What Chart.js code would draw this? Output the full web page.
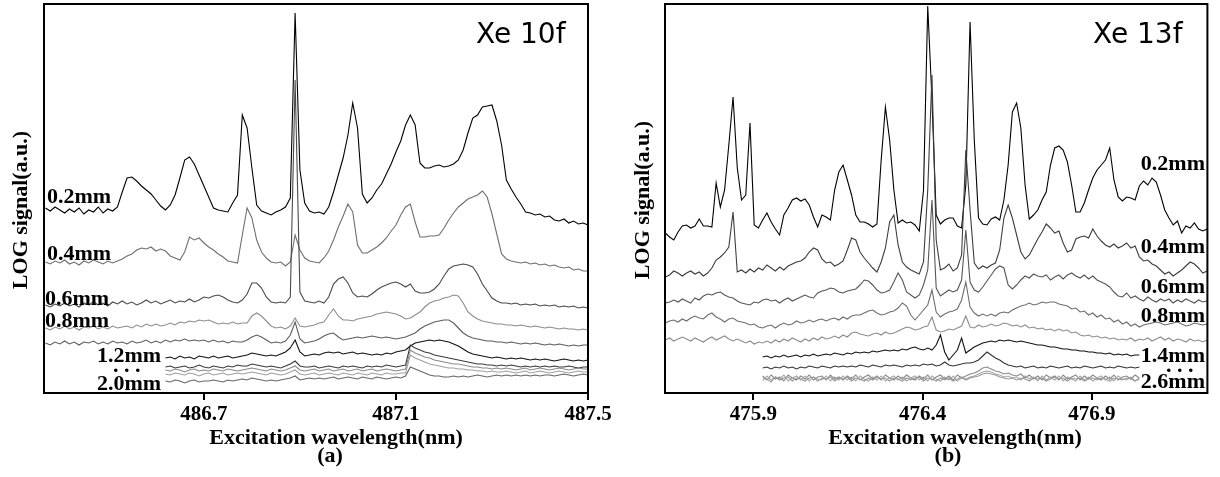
<!DOCTYPE html>
<html>
<head>
<meta charset="utf-8">
<script src="https://cdn.jsdelivr.net/npm/chart.js@4.4.1/dist/chart.umd.min.js"></script>
<style>
  body { margin: 0; background: #fff; }
  #wrapA { position: absolute; left: 0; top: 0; width: 615px; height: 477px; }
  #wrapB { position: absolute; left: 615px; top: 0; width: 605px; height: 477px; }
</style>
</head>
<body>
<div id="wrapA"><canvas id="chartA" width="615" height="477"></canvas></div>
<div id="wrapB"><canvas id="chartB" width="605" height="477"></canvas></div>
<script>
// ---- panel (a): Xe 10f, sampling grid 486.37 .. 487.50 nm ----
const waveA = Array.from({ length: 114 }, (_, i) => +(486.37 + i * 0.01).toFixed(3));
const ticksA = [486.7, 487.1, 487.5];

const a02 = [185,182,186,183,180,184,181,185,179,183,
  181,186,180,184,182,186,201,215,216,212,
  207,203,199,193,187,183,188,198,215,233,
  236,229,218,207,196,185,183,182,181,190,
  198,278,265,225,188,182,180,178,181,183,
  186,195,380,223,190,182,180,181,179,186,
  201,218,235,258,290,265,199,190,195,203,
  209,219,229,241,252,268,278,268,230,225,
  225,227,228,226,227,229,233,243,260,275,
  278,286,287,288,272,248,213,204,196,189,
  181,180,178,179,176,177,173,172,174,170,
  172,169,170,168];
const a04 = [131,129,132,130,133,129,131,128,132,130,
  133,131,129,132,130,132,134,137,139,143,
  145,144,146,142,144,142,137,135,133,141,
  156,153,155,150,146,143,139,136,132,131,
  130,158,185,175,153,141,135,131,130,131,
  127,131,158,143,135,132,131,130,135,142,
  153,166,177,189,181,148,140,140,143,146,
  150,155,162,168,178,186,189,171,156,156,
  157,157,158,165,173,180,186,190,194,196,
  198,202,196,179,159,139,134,132,131,130,
  131,129,130,128,129,127,128,126,125,126,
  123,124,122,122];
const a06 = [88,86,89,87,90,87,89,86,90,88,
  91,88,90,87,91,89,92,89,91,88,
  90,93,90,92,89,91,93,90,92,91,
  94,91,93,96,95,97,98,96,93,91,
  90,93,99,110,110,105,96,91,90,91,
  90,96,313,101,92,91,90,92,90,96,
  109,114,116,110,100,96,97,96,99,103,
  106,108,110,111,109,106,109,102,100,100,
  101,104,109,117,124,127,128,129,128,126,
  119,109,102,95,92,90,90,89,90,88,
  89,88,89,87,88,87,88,86,87,86,
  87,85,86,85];
const a08 = [65,63,66,64,67,64,66,63,66,65,
  67,64,66,64,67,65,66,67,65,68,
  66,69,67,69,67,68,70,68,71,70,
  72,71,73,72,73,71,69,70,69,71,
  69,70,70,77,80,77,72,67,65,66,
  64,67,75,67,66,67,68,70,71,78,
  84,77,73,73,72,74,75,76,77,79,
  80,81,80,79,77,74,75,78,81,86,
  90,92,93,95,96,98,97,90,81,77,
  74,72,71,70,69,69,68,68,67,68,
  67,66,67,66,65,66,65,64,65,64,
  64,63,64,63];
const a10 = [50,48,51,49,52,49,51,48,51,50,
  52,49,51,49,52,50,51,49,52,50,
  51,53,50,52,50,53,51,53,52,54,
  52,53,52,53,51,53,51,52,50,52,
  51,51,53,56,58,56,53,50,51,50,
  52,58,71,54,50,51,52,54,57,59,
  60,56,53,54,55,56,55,56,57,56,
  55,56,55,54,55,56,58,60,64,67,
  69,71,72,73,73,70,65,60,57,55,
  54,53,52,52,51,51,50,51,50,49,
  50,49,50,49,48,49,48,49,48,47,
  48,47,48,48];
// traces from 1.2 mm on start at 486.62 nm (25 empty samples)
const padA = Array(25).fill(null);
const a12 = padA.concat([35,36,34,37,35,36,34,37,36,35,
  37,35,36,37,35,36,37,38,40,39,
  38,37,38,37,39,41,45,53,41,37,
  38,39,38,40,41,40,41,39,40,41,
  39,40,39,38,39,38,40,39,41,42,
  43,47,50,51,52,53,52,53,52,51,
  49,47,44,41,39,38,37,36,35,36,
  35,34,35,34,35,34,33,34,33,34,
  33,32,33,34,33,32,33,32,33]);
const a14 = padA.concat([26,27,25,26,27,25,26,28,26,25,
  27,26,25,27,26,28,27,27,29,28,
  27,26,27,26,25,27,29,32,27,26,
  26,27,25,26,27,26,25,27,26,27,
  26,25,27,26,27,26,28,27,26,27,
  28,48,45,43,41,40,38,37,36,35,
  34,33,32,31,30,29,29,28,28,27,
  28,27,28,27,26,27,26,27,26,27,
  26,27,26,26,27,26,25,26,26]);
const a16 = padA.concat([23,22,24,23,21,23,24,22,23,22,
  24,23,22,24,23,22,23,24,25,24,
  23,22,24,23,22,23,25,27,23,22,
  23,24,22,23,24,22,23,24,22,23,
  24,22,23,24,22,23,24,23,22,23,
  24,43,40,38,36,35,33,32,31,30,
  29,29,28,27,26,26,25,25,24,25,
  24,25,24,23,24,25,23,24,25,24,
  23,24,25,24,23,24,25,24,24]);
const a18 = padA.concat([19,18,20,19,18,20,19,17,19,20,
  18,19,20,18,19,20,19,20,21,20,
  19,18,20,19,18,19,21,23,19,18,
  19,20,18,19,20,19,18,20,19,18,
  20,19,18,20,19,18,20,19,19,20,
  20,38,35,33,31,29,28,27,26,25,
  25,24,24,23,23,22,22,21,22,21,
  21,22,21,20,21,22,20,21,22,21,
  20,21,22,21,20,21,22,21,21]);
const a20 = padA.concat([12,11,13,12,10,12,13,11,12,12,
  13,12,11,13,12,13,14,13,15,14,
  13,12,13,12,13,14,15,17,13,14,
  15,14,15,14,15,16,14,15,16,15,
  14,16,15,14,16,15,14,15,16,15,
  17,26,24,22,20,18,17,17,16,16,
  17,16,17,16,17,18,17,16,17,18,
  17,18,17,18,17,18,17,18,17,18,
  18,17,18,19,18,17,18,19,18]);

// ---- panel (b): Xe 13f, sampling grid 475.64 .. 477.24 nm ----
const waveB = Array.from({ length: 129 }, (_, j) => +(475.64 + j * 0.0125).toFixed(4));
const ticksB = [475.9, 476.4, 476.9];

const b02 = [160,156,153,161,167,168,165,167,174,167,
  167,166,210,186,203,248,296,225,193,198,
  270,168,165,173,180,171,164,158,178,185,
  193,195,192,194,188,176,166,178,176,173,
  203,221,228,213,198,178,171,171,169,166,
  169,233,286,253,203,170,173,170,171,168,
  162,203,387,293,178,169,173,175,175,167,
  165,208,371,253,175,169,168,174,176,173,
  193,228,281,290,265,208,174,178,183,193,
  201,228,245,247,243,231,208,181,181,190,
  203,215,223,228,233,245,213,196,192,196,
  195,193,207,212,208,215,211,198,183,175,
  168,172,160,167,165,170,164,162,164];
const b04 = [116,118,122,120,117,120,122,119,121,117,
  120,125,133,136,140,146,181,121,123,120,
  124,121,125,123,128,125,122,126,123,127,
  129,131,132,135,141,145,143,134,130,131,
  127,129,132,143,155,153,141,135,130,125,
  121,131,145,171,178,148,131,126,123,121,
  119,131,203,318,153,123,125,129,122,125,
  138,243,183,130,124,127,125,128,130,143,
  175,188,175,158,141,134,138,146,154,161,
  169,165,160,162,150,141,143,154,156,157,
  155,164,157,152,148,146,149,145,147,150,
  145,147,136,132,133,129,127,123,119,121,
  117,120,123,127,131,129,125,120,122];
const b06 = [90,91,93,91,94,92,90,95,93,97,
  99,98,100,101,98,96,95,92,90,89,
  88,91,90,93,94,92,93,90,93,95,
  92,94,96,98,96,95,100,102,103,105,
  104,101,100,102,103,104,108,113,112,108,
  103,100,101,103,111,120,113,101,98,95,
  98,108,123,193,105,97,100,103,101,103,
  113,163,111,103,101,106,112,118,124,127,
  125,108,104,108,113,117,115,119,117,116,
  118,113,116,118,114,118,120,117,115,118,
  114,117,113,111,109,106,101,97,96,100,
  95,97,94,92,96,93,91,94,92,94,
  90,93,91,94,92,90,93,91,92];
const b08 = [70,72,73,71,74,72,75,77,75,74,
  78,80,76,74,71,74,75,72,71,70,
  68,69,66,65,67,68,65,68,70,68,
  69,72,70,71,73,71,73,74,72,74,
  75,73,76,74,77,78,78,80,82,83,
  80,78,79,81,82,85,90,87,78,73,
  78,83,88,103,81,76,79,81,82,84,
  93,111,86,80,77,79,77,79,77,80,
  81,80,83,85,87,88,90,88,89,91,
  90,91,91,89,88,87,84,85,81,82,
  78,80,76,78,74,75,71,73,69,71,
  67,69,66,68,69,70,71,70,68,69,
  70,71,69,67,68,70,69,68,69];
const b10 = [53,55,52,54,56,54,52,55,53,51,
  54,56,53,55,57,54,52,54,52,50,
  52,49,51,50,52,50,53,51,54,52,
  55,53,51,54,52,55,53,56,54,55,
  57,55,58,56,60,61,59,58,57,59,
  60,58,61,59,60,62,64,66,65,63,
  64,66,67,76,63,61,62,64,63,65,
  67,77,66,65,68,66,67,69,67,68,
  70,69,67,68,66,68,65,66,64,65,
  63,64,62,64,62,63,60,61,58,57,
  58,56,57,55,56,54,55,53,54,53,
  55,52,54,53,55,52,54,56,53,55,
  52,54,53,51,54,52,53,51,53];
// short traces run from 475.9275 to 477.04 nm (23 empty samples before, 16 after)
const headB = Array(23).fill(null), tailB = Array(16).fill(null);
const b14 = headB.concat([36,37,35,37,36,38,36,37,38,36,
  38,37,39,37,38,39,38,40,39,38,
  40,39,41,40,41,40,42,41,42,43,
  42,43,42,44,43,45,46,44,43,45,
  43,48,58,41,33,38,43,55,40,43,
  46,48,50,51,52,51,53,52,53,52,
  51,52,51,50,49,48,48,47,46,46,
  45,44,44,43,43,42,42,41,41,40,
  40,39,40,38,39,38,39,37,38,38], tailB);
const b18 = headB.concat([25,26,24,26,25,27,25,26,24,26,
  25,27,26,25,27,26,25,27,26,27,
  26,27,26,28,27,26,28,27,26,28,
  27,28,27,26,28,27,28,27,29,28,
  29,27,28,31,28,27,28,29,30,30,
  31,33,37,41,38,35,33,30,28,27,
  26,27,25,26,27,25,26,25,27,26,
  25,26,27,25,26,25,27,26,25,26,
  27,25,26,25,27,26,25,26,25,26], tailB);
const b22 = headB.concat([17,13,18,14,16,12,18,15,13,17,
  14,18,13,16,17,13,18,14,16,13,
  17,14,18,13,16,18,14,17,13,18,
  15,13,17,14,18,15,13,17,14,18,
  13,16,18,14,17,13,18,15,17,19,
  20,22,25,26,24,22,21,19,20,18,
  17,19,15,18,14,17,13,18,15,17,
  13,18,14,16,18,13,17,14,18,15,
  13,17,14,18,13,16,17,14,18,15], tailB);
const b24 = headB.concat([12,17,13,16,14,18,12,15,17,13,
  17,12,16,14,13,17,12,16,13,17,
  13,16,12,17,14,12,16,13,17,12,
  15,17,13,16,12,15,17,13,16,12,
  17,14,12,16,13,17,12,15,14,16,
  17,19,21,22,21,19,18,16,17,15,
  16,13,17,14,16,12,17,13,16,13,
  17,12,16,14,12,17,13,16,12,15,
  17,13,16,12,17,14,13,16,12,15], tailB);
const b26 = headB.concat([15,14,11,16,13,15,16,12,15,14,
  12,15,16,12,15,14,16,12,15,14,
  16,12,15,14,12,15,13,16,14,15,
  12,15,14,12,15,13,15,16,12,15,
  14,12,15,13,15,12,14,16,13,15,
  16,17,19,20,19,18,16,15,14,15,
  13,15,14,12,15,14,15,12,14,16,
  14,15,12,15,14,15,12,14,15,13,
  15,14,12,15,14,13,15,14,12,14], tailB);

const labelFont = 'bold 22px "Liberation Serif"';
const titleFont = '28px "DejaVu Sans"';

// frame + annotation text, drawn after the datasets
const framePlugin = {
  id: "frame",
  afterDraw(chart, args, opts) {
    const { ctx, chartArea: area } = chart;
    ctx.save();
    ctx.strokeStyle = "#000";
    ctx.lineWidth = 2;
    ctx.strokeRect(area.left, area.top, area.right - area.left, area.bottom - area.top);
    ctx.fillStyle = "#000";
    ctx.textBaseline = "alphabetic";
    opts.texts.forEach((t) => {
      ctx.save();
      ctx.font = t.font || labelFont;
      ctx.textAlign = t.align || "left";
      ctx.translate(t.x, t.y);
      if (t.rotate) ctx.rotate(t.rotate);
      ctx.fillText(t.text, 0, 0);
      ctx.restore();
    });
    ctx.restore();
  },
};

function makeChart(id, wave, series, range, ticks, padding, texts) {
  return new Chart(id, {
    type: "line",
    data: {
      datasets: series.map((s) => ({
        label: s.label,
        data: s.values.map((v, i) => ({ x: wave[i], y: v })),
        borderColor: s.color,
        borderWidth: 1.1,
        pointRadius: 0,
        tension: 0,
        fill: false,
      })),
    },
    options: {
      responsive: false,
      animation: false,
      devicePixelRatio: 1,
      layout: { padding: padding },
      plugins: {
        legend: { display: false },
        tooltip: { enabled: false },
        frame: { texts: texts },
      },
      scales: {
        x: {
          type: "linear",
          min: range[0],
          max: range[1],
          afterBuildTicks: (axis) => {
            axis.ticks = ticks.map((v) => ({ value: v }));
          },
          afterFit: (axis) => {
            axis.height = 84;
          },
          border: { display: false },
          grid: { drawOnChartArea: false, drawTicks: true, tickLength: 7, lineWidth: 2, color: "#000" },
          ticks: {
            color: "#000",
            padding: 2,
            maxRotation: 0,
            autoSkip: false,
            font: { family: "Liberation Serif", weight: "bold", size: 21 },
            callback: (v) => Number(v).toFixed(1),
          },
        },
        y: { display: false, min: 0, max: 389 },
      },
    },
    plugins: [framePlugin],
  });
}

makeChart("chartA", waveA, [
  { label: "2.0mm", values: a20, color: "#666" },
  { label: "1.8mm", values: a18, color: "#a0a0a0" },
  { label: "1.6mm", values: a16, color: "#8a8a8a" },
  { label: "1.4mm", values: a14, color: "#3a3a3a" },
  { label: "1.2mm", values: a12, color: "#111" },
  { label: "1.0mm", values: a10, color: "#5c5c5c" },
  { label: "0.8mm", values: a08, color: "#8c8c8c" },
  { label: "0.6mm", values: a06, color: "#4a4a4a" },
  { label: "0.4mm", values: a04, color: "#6e6e6e" },
  { label: "0.2mm", values: a02, color: "#000" },
], [486.367, 487.5], ticksA, { left: 44, right: 27, top: 4, bottom: 0 }, [
  { text: "0.2mm", x: 47, y: 203 },
  { text: "0.4mm", x: 47, y: 260 },
  { text: "0.6mm", x: 45, y: 305 },
  { text: "0.8mm", x: 45, y: 327 },
  { text: "1.2mm", x: 97, y: 362 },
  { text: ". . .", x: 113, y: 372 },
  { text: "2.0mm", x: 97, y: 390 },
  { text: "Xe 10f", x: 476, y: 43, font: titleFont },
  { text: "Excitation wavelength(nm)", x: 336, y: 444, align: "center" },
  { text: "(a)", x: 330, y: 462, align: "center" },
  { text: "LOG signal(a.u.)", x: 27, y: 210, align: "center", rotate: -Math.PI / 2 },
]);

makeChart("chartB", waveB, [
  { label: "2.6mm", values: b26, color: "#999" },
  { label: "2.4mm", values: b24, color: "#a8a8a8" },
  { label: "2.2mm", values: b22, color: "#8a8a8a" },
  { label: "1.8mm", values: b18, color: "#333" },
  { label: "1.4mm", values: b14, color: "#111" },
  { label: "1.0mm", values: b10, color: "#8c8c8c" },
  { label: "0.8mm", values: b08, color: "#6e6e6e" },
  { label: "0.6mm", values: b06, color: "#555" },
  { label: "0.4mm", values: b04, color: "#3c3c3c" },
  { label: "0.2mm", values: b02, color: "#000" },
], [475.639, 477.241], ticksB, { left: 50, right: 12.6, top: 4, bottom: 0 }, [
  { text: "0.2mm", x: 590, y: 170, align: "right" },
  { text: "0.4mm", x: 590, y: 253, align: "right" },
  { text: "0.6mm", x: 590, y: 293, align: "right" },
  { text: "0.8mm", x: 590, y: 322, align: "right" },
  { text: "1.4mm", x: 590, y: 362, align: "right" },
  { text: ". . .", x: 551, y: 372 },
  { text: "2.6mm", x: 590, y: 388, align: "right" },
  { text: "Xe 13f", x: 478, y: 43, font: titleFont },
  { text: "Excitation wavelength(nm)", x: 340, y: 444, align: "center" },
  { text: "(b)", x: 333, y: 462, align: "center" },
  { text: "LOG signal(a.u.)", x: 34, y: 200, align: "center", rotate: -Math.PI / 2 },
]);
</script>
</body>
</html>
